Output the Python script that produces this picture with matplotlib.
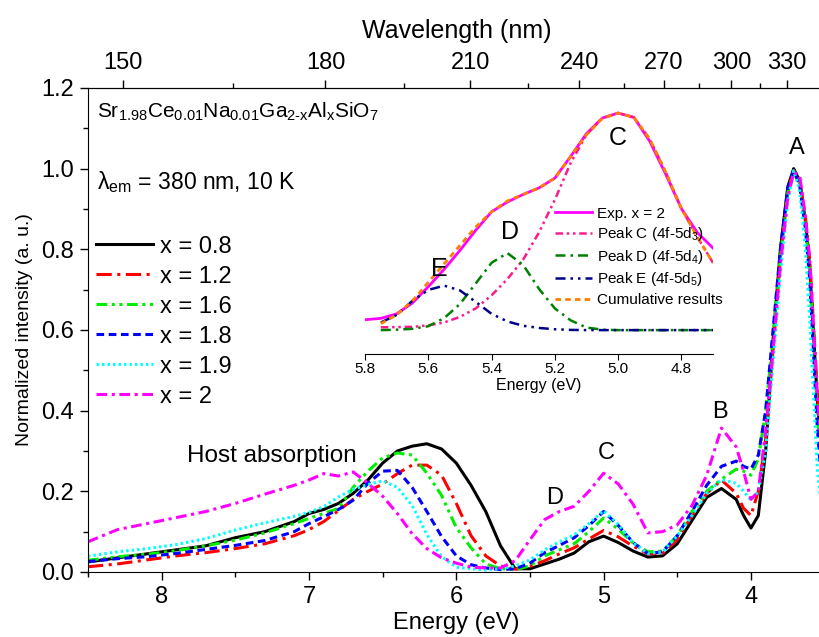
import matplotlib
matplotlib.use("Agg")
import matplotlib.pyplot as plt
import numpy as np
from matplotlib.ticker import MultipleLocator, FormatStrFormatter

plt.rcParams['font.family'] = ['Liberation Sans', 'DejaVu Sans']
plt.rcParams['mathtext.fontset'] = 'custom'
plt.rcParams['mathtext.rm'] = 'Liberation Sans'
plt.rcParams['mathtext.it'] = 'Liberation Sans:italic'

# ---- main excitation spectra (energy in eV, normalized intensity) ----
energy = [8.5, 8.3, 8.1, 7.9, 7.7, 7.5, 7.3, 7.1, 7.0,
          6.9, 6.8, 6.7, 6.6, 6.5, 6.4, 6.3, 6.2, 6.1, 6.0,
          5.9, 5.8, 5.7, 5.6, 5.5, 5.4, 5.3, 5.2, 5.1, 5.0,
          4.9, 4.8, 4.7, 4.6, 4.5, 4.4, 4.3, 4.2, 4.1,
          4.05, 4.0, 3.95, 3.9, 3.85, 3.8, 3.75, 3.71, 3.67, 3.63, 3.6, 3.55, 3.5]

x08 = [0.025, 0.035, 0.045, 0.055, 0.065, 0.085, 0.1, 0.125, 0.145,
       0.155, 0.17, 0.195, 0.228, 0.27, 0.3, 0.312, 0.318, 0.305, 0.27,
       0.215, 0.15, 0.065, 0.008, 0.008, 0.02, 0.032, 0.047, 0.075, 0.089,
       0.073, 0.052, 0.037, 0.04, 0.07, 0.128, 0.185, 0.207, 0.18,
       0.14, 0.109, 0.14, 0.3, 0.575, 0.8, 0.955, 1.0, 0.97, 0.87, 0.75, 0.43, 0.2]
x12 = [0.013, 0.02, 0.03, 0.04, 0.048, 0.058, 0.07, 0.09, 0.105,
       0.125, 0.152, 0.18, 0.2, 0.218, 0.244, 0.265, 0.265, 0.24, 0.17,
       0.09, 0.04, 0.015, 0.007, 0.014, 0.028, 0.045, 0.06, 0.082, 0.103,
       0.087, 0.064, 0.045, 0.046, 0.08, 0.14, 0.195, 0.228, 0.195,
       0.158, 0.14, 0.2, 0.33, 0.55, 0.78, 0.945, 0.995, 0.975, 0.88, 0.77, 0.45, 0.2]
x16 = [0.029, 0.038, 0.044, 0.053, 0.065, 0.079, 0.097, 0.12, 0.133,
       0.145, 0.158, 0.21, 0.25, 0.283, 0.295, 0.29, 0.245, 0.19, 0.11,
       0.06, 0.02, 0.008, 0.006, 0.015, 0.04, 0.055, 0.07, 0.1, 0.134,
       0.106, 0.072, 0.05, 0.052, 0.09, 0.15, 0.2, 0.23, 0.255,
       0.25, 0.24, 0.28, 0.4, 0.58, 0.78, 0.94, 0.99, 0.965, 0.86, 0.74, 0.4, 0.15]
x18 = [0.026, 0.033, 0.038, 0.046, 0.056, 0.066, 0.078, 0.1, 0.12,
       0.137, 0.155, 0.178, 0.22, 0.25, 0.252, 0.21, 0.15, 0.088, 0.04,
       0.018, 0.01, 0.006, 0.008, 0.022, 0.048, 0.066, 0.085, 0.115, 0.15,
       0.115, 0.073, 0.046, 0.05, 0.09, 0.15, 0.215, 0.262, 0.275,
       0.262, 0.255, 0.29, 0.4, 0.6, 0.8, 0.95, 0.995, 0.96, 0.85, 0.72, 0.36, 0.12]
x19 = [0.039, 0.05, 0.058, 0.068, 0.083, 0.104, 0.122, 0.138, 0.148,
       0.162, 0.186, 0.205, 0.217, 0.226, 0.21, 0.165, 0.093, 0.038, 0.012,
       0.008, 0.005, 0.008, 0.015, 0.03, 0.055, 0.075, 0.092, 0.12, 0.152,
       0.118, 0.072, 0.046, 0.05, 0.09, 0.14, 0.195, 0.229, 0.22,
       0.2, 0.178, 0.2, 0.3, 0.52, 0.74, 0.92, 0.995, 0.95, 0.8, 0.62, 0.26, 0.08]
x20 = [0.075, 0.105, 0.12, 0.135, 0.15, 0.17, 0.193, 0.215, 0.228,
       0.244, 0.238, 0.248, 0.22, 0.188, 0.145, 0.095, 0.058, 0.035, 0.022,
       0.012, 0.01, 0.01, 0.028, 0.08, 0.13, 0.15, 0.163, 0.2, 0.245,
       0.218, 0.168, 0.097, 0.1, 0.117, 0.165, 0.24, 0.357, 0.31,
       0.25, 0.18, 0.2, 0.35, 0.55, 0.76, 0.93, 0.99, 0.985, 0.88, 0.77, 0.44, 0.2]

labels = ['x = 0.8', 'x = 1.2', 'x = 1.6', 'x = 1.8', 'x = 1.9', 'x = 2']
colors = ['black', '#FF0000', '#00EE00', '#0000FF', '#00FFFF', '#FF00FF']
styles = ['-', (0, (5, 1.8, 1, 1.8)), (0, (3.5, 1.5, 1, 1.5, 1, 1.5)),
          (0, (2.5, 1.5)), (0, (0.8, 1.0)), (0, (3.5, 1.5, 1, 1.5))]

# ---- inset: Gaussian decomposition for x = 2 ----
e_exp = [5.8, 5.75, 5.7, 5.65, 5.6, 5.55, 5.5, 5.45, 5.4, 5.35, 5.3, 5.25,
         5.2, 5.15, 5.1, 5.05, 5.0, 4.95, 4.9, 4.85, 4.8, 4.75, 4.7]
exp_x2 = [0.048, 0.054, 0.075, 0.125, 0.2, 0.28, 0.367, 0.46, 0.545, 0.59, 0.625, 0.655,
          0.7, 0.8, 0.905, 0.977, 1.0, 0.98, 0.87, 0.72, 0.56, 0.45, 0.378]
e_fit = [5.75, 5.7, 5.65, 5.6, 5.55, 5.5, 5.45, 5.4, 5.35, 5.3, 5.25,
         5.2, 5.15, 5.1, 5.05, 5.0, 4.95, 4.9, 4.85, 4.8, 4.75, 4.7]
peak_c = [0.013, 0.014, 0.015, 0.022, 0.035, 0.061, 0.1, 0.16, 0.235, 0.325, 0.45,
          0.6, 0.77, 0.9, 0.975, 1.0, 0.98, 0.88, 0.73, 0.56, 0.43, 0.31]
peak_d = [0.0, 0.002, 0.006, 0.018, 0.055, 0.12, 0.215, 0.31, 0.355, 0.3, 0.19,
          0.1, 0.045, 0.012, 0.002, 0.0, 0.0, 0.0, 0.0, 0.0, 0.0, 0.0]
peak_e = [0.035, 0.07, 0.135, 0.185, 0.205, 0.183, 0.13, 0.075, 0.04, 0.02, 0.01,
          0.004, 0.001, 0.0, 0.0, 0.0, 0.0, 0.0, 0.0, 0.0, 0.0, 0.0]
cumul = [0.03, 0.07, 0.135, 0.22, 0.305, 0.39, 0.475, 0.545, 0.595, 0.625, 0.655,
         0.7, 0.8, 0.9, 0.975, 1.0, 0.98, 0.88, 0.73, 0.56, 0.43, 0.31]

W, H = 819, 637
fig = plt.figure(figsize=(W / 100, H / 100), dpi=100)
ax = fig.add_axes([88 / W, 65 / H, (824.6 - 88) / W, 484 / H])

for y, lab, c, ls in zip([x08, x12, x16, x18, x19, x20], labels, colors, styles):
    ax.plot(energy, y, color=c, ls=ls, lw=2.2, label=lab)

ax.set_xlim(8.5, 3.5)
ax.set_ylim(0, 1.2)
ax.xaxis.set_major_locator(MultipleLocator(1))
ax.xaxis.set_minor_locator(MultipleLocator(0.5))
ax.yaxis.set_major_locator(MultipleLocator(0.2))
ax.yaxis.set_minor_locator(MultipleLocator(0.1))
ax.yaxis.set_major_formatter(FormatStrFormatter('%.1f'))
ax.tick_params(which='both', direction='out', labelsize=17, width=1)
ax.tick_params(which='major', length=6, pad=4)
ax.tick_params(which='minor', length=3.5)
ax.spines['right'].set_visible(False)
ax.set_xlabel('Energy (eV)', fontsize=17, labelpad=3)
ax.set_ylabel('Normalized intensity (a. u.)', fontsize=14, labelpad=6)


def e2nm(x):
    x = np.asarray(x, dtype=float)
    with np.errstate(divide='ignore'):
        return 1239.84 / x


top = ax.secondary_xaxis('top', functions=(e2nm, e2nm))
top.set_xticks([150, 180, 210, 240, 270, 300, 330])
top.set_xticks([165, 195, 225, 255, 285, 315], minor=True)
top.tick_params(which='both', direction='out', labelsize=17, width=1)
top.tick_params(which='major', length=6, pad=4)
top.tick_params(which='minor', length=3.5)
top.set_xlabel('Wavelength (nm)', fontsize=18, labelpad=10)

ax.text(8.44, 1.126, r'Sr$_{1.98}$Ce$_{0.01}$Na$_{0.01}$Ga$_{\mathregular{2\text{-}x}}$Al$_\mathregular{x}$SiO$_7$',
        fontsize=15, ha='left', va='baseline')
ax.text(8.44, 0.949, r'λ$_\mathregular{em}$ = 380 nm, 10 K', fontsize=16.5, ha='left', va='baseline')
ax.text(7.25, 0.272, 'Host absorption', fontsize=17.5, ha='center', va='baseline')
for s, ex, ey in [('A', 3.69, 1.037), ('B', 4.21, 0.382), ('C', 4.98, 0.28), ('D', 5.33, 0.169)]:
    ax.text(ex, ey, s, fontsize=17, ha='center', va='baseline')

ax.legend(loc='upper left', bbox_to_anchor=(0.011, 0.695), frameon=False, fontsize=17,
          handlelength=2.41, handletextpad=0.3, labelspacing=0.34, borderpad=0, borderaxespad=0)

# inset
axi = fig.add_axes([365 / W, (H - 354) / H, 348 / W, 254 / H])
axi.patch.set_alpha(0)
axi.plot(e_exp, exp_x2, color='#FF00FF', lw=2, label='Exp. x = 2')
axi.plot(e_fit, peak_c, color='#FF1A8C', lw=1.8, ls=(0, (3, 1.5, 1, 1.5, 1, 1.5)),
         label=r'Peak C (4f-5d$_3$)')
axi.plot(e_fit, peak_d, color='#008000', lw=1.8, ls=(0, (4, 2, 1, 2)),
         label=r'Peak D (4f-5d$_4$)')
axi.plot(e_fit, peak_e, color='#00008B', lw=1.8, ls=(0, (4, 2, 1, 2, 1, 2)),
         label=r'Peak E (4f-5d$_5$)')
axi.plot(e_fit, cumul, color='#FF8000', lw=2, ls=(0, (2, 1.5)), label='Cumulative results')
axi.set_xlim(5.8, 4.7)
axi.set_ylim(-0.11, 1.06)
for sp in ['left', 'right', 'top']:
    axi.spines[sp].set_visible(False)
axi.set_yticks([])
axi.xaxis.set_major_locator(MultipleLocator(0.2))
axi.xaxis.set_major_formatter(FormatStrFormatter('%.1f'))
axi.tick_params(axis='x', direction='out', labelsize=11, length=4, pad=2)
axi.set_xlabel('Energy (eV)', fontsize=11.5, labelpad=1)
for s, ex, ey in [('C', 5.0, 0.854), ('D', 5.342, 0.42), ('E', 5.566, 0.251)]:
    axi.text(ex, ey, s, fontsize=18, ha='center', va='baseline')
axi.legend(loc='upper left', bbox_to_anchor=(0.546, 0.58), frameon=False, fontsize=11,
           handlelength=2.42, handletextpad=0.3, labelspacing=0.3, borderpad=0, borderaxespad=0)

fig.savefig('out.png', dpi=100)
